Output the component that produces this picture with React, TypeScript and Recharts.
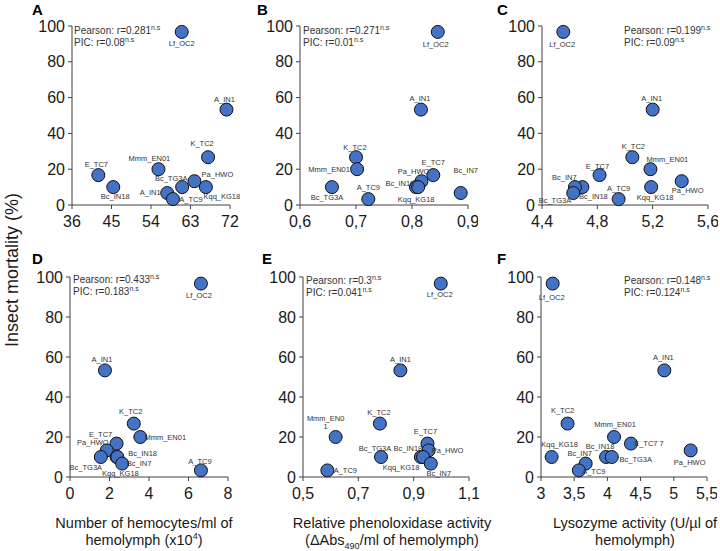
import React from "react";
import { Scatter, ScatterChart, XAxis, YAxis } from "recharts";

// insect mortality (%) per strain, same order in every panel
const strainNames = ["Lf_OC2", "A_IN1", "K_TC2", "Mmm_EN01", "E_TC7", "Pa_HWO", "Bc_IN18", "Bc_TG3A", "Kqq_KG18", "Bc_IN7", "A_TC9"];
const mortality = [96.7, 53.3, 26.7, 20, 16.7, 13.3, 10, 10, 10, 6.7, 3.3];

// label texts as printed in each panel
const labelsA = ["Lf_OC2", "A_IN1", "K_TC2", "Mmm_EN01", "E_TC7", "Pa_HWO", "Bc_IN18", "Bc_TG3A", "Kqq_KG18", "A_IN1", "A_TC9"];
const labelsE = ["Lf_OC2", "A_IN1", "K_TC2", "Mmm_EN0\n1", "E_TC7", "Pa_HWO", "Bc_IN18", "Bc_TG3A", "Kqq_KG18", "Bc_IN7", "A_TC9"];
const labelsF = ["Lf_OC2", "A_IN1", "K_TC2", "Mmm_EN01", "E_TC7 7", "Pa_HWO", "Bc_IN18", "Bc_TG3A", "Kqq_KG18", "Bc_IN7", "A_TC9"];

// x values per panel
const xA = [61, 71.2, 67, 55.7, 42, 63.9, 45.4, 61.1, 66.5, 57.7, 59];
const xB = [0.846, 0.816, 0.7, 0.702, 0.838, 0.817, 0.807, 0.657, 0.811, 0.887, 0.722];
const xC = [4.554, 5.2, 5.053, 5.184, 4.816, 5.41, 4.692, 4.638, 5.189, 4.626, 4.954];
const xD = [6.63, 1.77, 3.23, 3.56, 2.36, 1.86, 2.36, 1.56, 2.4, 2.64, 6.63];
const xE = [0.998, 0.852, 0.778, 0.618, 0.95, 0.954, 0.926, 0.782, 0.934, 0.962, 0.588];
const xF = [3.176, 4.857, 3.4, 4.1, 4.355, 5.254, 3.98, 4.066, 3.16, 3.673, 3.57];

const ticksA = [36, 45, 54, 63, 72];
const ticksB = [0.6, 0.7, 0.8, 0.9];
const ticksC = [4.4, 4.8, 5.2, 5.6];
const ticksD = [0, 2, 4, 6, 8];
const ticksE = [0.5, 0.7, 0.9, 1.1];
const ticksF = [3, 3.5, 4, 4.5, 5, 5.5];
const ticksY = [0, 20, 40, 60, 80, 100];

const pearson = ["0.281", "0.271", "0.199", "0.433", "0.3", "0.148"];
const pic = ["0.08", "0.01", "0.09", "0.183", "0.041", "0.124"];

// label centre offsets from the marker (px)
const offA = [[0, 11], [-2, -10], [-6, -14], [-9, -11], [-2, -11], [23, -7], [2, 9], [-11, -9], [16, 9], [-17, -1], [18, 0]];
const offB = [[-2, 12], [-1, -11], [-1, -10], [-28, 0], [0, -13], [-8, -10], [-16, -4], [-5, 10], [-2, 12], [5, -23], [0, -12]];
const offC = [[-1, 12], [-1, -11], [1, -11], [17, -10], [-2, -9], [6, 9], [11, 9], [-20, 13], [4, 10], [-9, -16], [0, -11]];
const offD = [[-2, 12], [-3, -11], [-3, -12], [25, 0], [-16, -9], [-14, -8], [26, -4], [-15, 10], [3, 16], [17, 0], [-1, -9]];
const offE = [[-1, 11], [0, -11], [-1, -11], [-10, -19], [-2, -12], [19, 0], [-13, -9], [-6, -9], [-22, 10], [8, 10], [18, 0]];
const offF = [[-1, 14], [-1, -13], [-5, -13], [1, -13], [18, 0], [-1, 12], [-6, -11], [24, 2], [8, -13], [-6, -10], [15, 1]];

const FONT = "'Liberation Sans', Arial, sans-serif";
const AXIS = "#404040";

type Pt = { x: number; y: number; label: string; dx: number; dy: number };

function buildRows(xs: number[], labels: string[], offs: number[][]): Pt[] {
  return xs.map((x, i) => ({ x, y: mortality[i], label: labels[i], dx: offs[i][0], dy: offs[i][1] }));
}

function renderDot(props: any) {
  const { cx, cy } = props;
  if (cx == null || cy == null) return <g />;
  return <circle cx={cx} cy={cy} r={6.5} fill="#4472C4" stroke="#111" strokeWidth={1} />;
}

function renderLabel(props: any) {
  const { cx, cy, payload } = props;
  if (cx == null || cy == null) return <g />;
  const lines = String(payload.label).split("\n");
  const tx = cx + payload.dx;
  return (
    <text x={tx} y={cy + payload.dy + 2.7} textAnchor="middle" fontSize={7.5} fontFamily={FONT} fill="#333">
      {lines.map((l, i) => (
        <tspan key={i} x={tx} dy={i === 0 ? 0 : 8}>{l}</tspan>
      ))}
    </text>
  );
}

const fmt = (v: number) => String(v).replace(".", ",");

type PanelProps = {
  left: number;
  top: number;
  plot: [number, number, number, number]; // left, right, top, bottom in page px
  rows: Pt[];
  ticks: number[];
};

function Panel({ left, top, plot, rows, ticks }: PanelProps) {
  const [pl, pr, pt, pb] = plot;
  const width = pr - left + 10;
  const height = pb - top + 35;
  return (
    <div style={{ position: "absolute", left, top, width, height }}>
      <ScatterChart width={width} height={height} margin={{ top: pt - top, right: 10, bottom: 5, left: 0 }}>
        <XAxis
          type="number"
          dataKey="x"
          domain={[ticks[0], ticks[ticks.length - 1]]}
          ticks={ticks}
          tickFormatter={fmt}
          height={30}
          stroke={AXIS}
          tickSize={4}
          tickMargin={7}
          tick={{ fontSize: 16, fill: "#1a1a1a", fontFamily: FONT }}
          interval={0}
        />
        <YAxis
          type="number"
          dataKey="y"
          domain={[0, 100]}
          ticks={ticksY}
          width={pl - left}
          stroke={AXIS}
          tickSize={4}
          tickMargin={3}
          tick={{ fontSize: 16, fill: "#1a1a1a", fontFamily: FONT }}
          interval={0}
        />
        <Scatter data={rows} shape={renderDot} isAnimationActive={false} />
        <Scatter data={rows} shape={renderLabel} isAnimationActive={false} />
      </ScatterChart>
    </div>
  );
}

function Stats({ x, y, i }: { x: number; y: number; i: number }) {
  const sup = { fontSize: 7, position: "relative" as const, top: -4 };
  return (
    <div style={{ position: "absolute", left: x, top: y, fontSize: 10, lineHeight: "11px", fontFamily: FONT, color: "#333", whiteSpace: "nowrap" }}>
      <div>Pearson: r={pearson[i]}<span style={sup}>n.s</span></div>
      <div>PIC: r={pic[i]}<span style={sup}>n.s</span></div>
    </div>
  );
}

function Letter({ x, y, t }: { x: number; y: number; t: string }) {
  return (
    <div style={{ position: "absolute", left: x, top: y, fontSize: 15, fontWeight: "bold", fontFamily: FONT, lineHeight: "15px" }}>{t}</div>
  );
}

function Title({ cx, children }: { cx: number; children: React.ReactNode }) {
  return (
    <div style={{ position: "absolute", left: cx - 120, top: 515, width: 240, textAlign: "center", fontSize: 14.5, lineHeight: "17px", fontFamily: FONT, color: "#1a1a1a" }}>
      {children}
    </div>
  );
}

export default function App() {
  return (
    <div style={{ position: "absolute", left: 0, top: 0, width: 720, height: 551, background: "#fff", overflow: "hidden" }}>
      <Panel left={0} top={0} plot={[72, 230, 26, 205]} rows={buildRows(xA, labelsA, offA)} ticks={ticksA} />
      <Panel left={240} top={0} plot={[300, 468, 26, 205]} rows={buildRows(xB, strainNames, offB)} ticks={ticksB} />
      <Panel left={480} top={0} plot={[542, 708, 26, 205]} rows={buildRows(xC, strainNames, offC)} ticks={ticksC} />
      <Panel left={0} top={250} plot={[70, 228, 277, 477]} rows={buildRows(xD, strainNames, offD)} ticks={ticksD} />
      <Panel left={240} top={250} plot={[303, 469, 277, 477]} rows={buildRows(xE, labelsE, offE)} ticks={ticksE} />
      <Panel left={480} top={250} plot={[541, 707, 277, 477]} rows={buildRows(xF, labelsF, offF)} ticks={ticksF} />

      <Letter x={32} y={2} t="A" />
      <Letter x={257} y={2} t="B" />
      <Letter x={497} y={2} t="C" />
      <Letter x={32} y={251} t="D" />
      <Letter x={262} y={251} t="E" />
      <Letter x={497} y={251} t="F" />

      <Stats x={74} y={25} i={0} />
      <Stats x={303} y={25} i={1} />
      <Stats x={624} y={25} i={2} />
      <Stats x={73} y={274} i={3} />
      <Stats x={306} y={275} i={4} />
      <Stats x={624} y={275} i={5} />

      <div style={{ position: "absolute", left: 12 - 100, top: 270 - 11, width: 200, textAlign: "center", fontSize: 18, lineHeight: "22px", fontFamily: FONT, transform: "rotate(-90deg)", color: "#1a1a1a" }}>
        Insect mortality (%)
      </div>

      <Title cx={144}>
        Number of hemocytes/ml of<br />hemolymph (x10<sup style={{ fontSize: 9, lineHeight: 0 }}>4</sup>)
      </Title>
      <Title cx={392}>
        Relative phenoloxidase activity<br />(ΔAbs<sub style={{ fontSize: 9, lineHeight: 0 }}>490</sub>/ml of hemolymph)
      </Title>
      <Title cx={635}>
        Lysozyme activity (U/µl of<br />hemolymph)
      </Title>
    </div>
  );
}
